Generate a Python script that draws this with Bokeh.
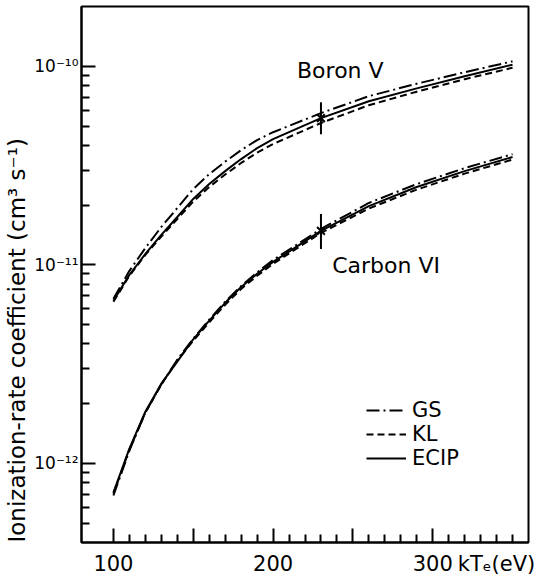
import math
from bokeh.plotting import figure
from bokeh.models import (FixedTicker, Label, Legend, LegendItem, Range1d,
                          CustomJSTickFormatter, LinearAxis)
from bokeh.embed import file_html
from bokeh.resources import INLINE

FONT = "DejaVu Sans"

# ---- data -----------------------------------------------------------------
temps = [100, 110, 120, 130, 140, 150, 160, 170, 180, 190, 200,
         230, 260, 290, 320, 350]

boron_gs = [6.75e-12, 9.33e-12, 1.216e-11, 1.552e-11, 1.932e-11, 2.41e-11,
            2.864e-11, 3.31e-11, 3.785e-11, 4.25e-11, 4.656e-11,
            5.81e-11, 7.07e-11, 8.17e-11, 9.33e-11, 1.059e-10]
boron_kl = [6.52e-12, 8.81e-12, 1.122e-11, 1.390e-11, 1.702e-11, 2.084e-11,
            2.466e-11, 2.851e-11, 3.26e-11, 3.673e-11, 4.06e-11,
            5.18e-11, 6.37e-11, 7.45e-11, 8.61e-11, 9.83e-11]
boron_ecip = [6.59e-12, 8.91e-12, 1.135e-11, 1.416e-11, 1.742e-11, 2.148e-11,
              2.553e-11, 2.965e-11, 3.41e-11, 3.873e-11, 4.30e-11,
              5.48e-11, 6.67e-11, 7.74e-11, 8.91e-11, 1.019e-10]

carbon_gs = [6.90e-13, 1.161e-12, 1.803e-12, 2.506e-12, 3.33e-12, 4.25e-12,
             5.30e-12, 6.52e-12, 7.83e-12, 9.17e-12, 1.059e-11,
             1.517e-11, 2.05e-11, 2.553e-11, 3.07e-11, 3.61e-11]
carbon_kl = [7.06e-13, 1.175e-12, 1.803e-12, 2.494e-12, 3.30e-12, 4.15e-12,
             5.14e-12, 6.30e-12, 7.57e-12, 8.81e-12, 1.012e-11,
             1.449e-11, 1.923e-11, 2.393e-11, 2.88e-11, 3.39e-11]
carbon_ecip = [7.14e-13, 1.189e-12, 1.824e-12, 2.523e-12, 3.26e-12, 4.22e-12,
               5.24e-12, 6.44e-12, 7.74e-12, 9.02e-12, 1.035e-11,
               1.483e-11, 1.977e-11, 2.466e-11, 2.965e-11, 3.49e-11]

# measured points with error bars (Boron V, Carbon VI)
meas_t = [230, 230]
meas_val = [5.48e-11, 1.483e-11]
meas_lo = [4.55e-11, 1.202e-11]
meas_hi = [6.59e-11, 1.803e-11]

# ticks and tick labels
x_major = [100, 150, 200, 250, 300]
x_minor = [t for t in range(110, 360, 10) if t not in x_major]
x_labels = [100, 200, 300]
y_major = [1e-12, 1e-11, 1e-10]
y_minor = ([m * 1e-13 for m in range(5, 10)] +
           [m * 1e-12 for m in range(2, 10)] +
           [m * 1e-11 for m in range(2, 10)])
y_tick_labels = ["10\u207b\u00b9\u00b2", "10\u207b\u00b9\u00b9",
                 "10\u207b\u00b9\u2070"]

series_names = ["GS", "KL", "ECIP"]
dashes = ["13 4 2 4", "7 4", "solid"]

x_title = "kT\u2091(eV)"
x_title_pos = 340
y_title = "Ionization-rate coefficient (cm\u00b3 s\u207b\u00b9)"

# ---- figure ----------------------------------------------------------------
p = figure(width=536, height=580, x_range=Range1d(80, 360),
           y_range=Range1d(4e-13, 2e-10), y_axis_type="log",
           output_backend="svg", toolbar_location=None,
           min_border_left=81, min_border_right=8, min_border_top=6,
           min_border_bottom=38)
p.background_fill_color = "white"
p.border_fill_color = "white"
p.outline_line_color = "black"
p.outline_line_width = 2
p.xgrid.visible = False
p.ygrid.visible = False

p.xaxis.ticker = FixedTicker(ticks=x_major, minor_ticks=x_minor)
p.yaxis.ticker = FixedTicker(ticks=y_major, minor_ticks=y_minor)
for ax in (p.xaxis[0], p.yaxis[0]):
    ax.axis_line_width = 2
    ax.axis_line_color = "black"
    ax.major_tick_in = 14
    ax.major_tick_out = 0
    ax.minor_tick_in = 8
    ax.minor_tick_out = 0
    ax.major_tick_line_width = 2
    ax.minor_tick_line_width = 2
    ax.major_tick_line_color = "black"
    ax.minor_tick_line_color = "black"

# main x axis: ticks only
xa = p.xaxis[0]
xa.formatter = CustomJSTickFormatter(code="return '';")
xa.major_label_text_font_size = "0px"
xa.major_label_standoff = 0

# second x axis below carries the numbers and the unit label
xlab = LinearAxis(ticker=FixedTicker(ticks=x_labels + [x_title_pos],
                                     minor_ticks=[]),
                  major_label_overrides={x_title_pos: x_title},
                  axis_line_color=None, major_tick_line_color=None,
                  minor_tick_line_color=None, major_tick_in=0,
                  major_tick_out=0, minor_tick_in=0, minor_tick_out=0,
                  major_label_standoff=9, major_label_text_font=FONT,
                  major_label_text_font_size="21px",
                  major_label_text_color="black")
p.add_layout(xlab, "below")

# y axis: 10^n labels and title
ya = p.yaxis[0]
ya.major_label_overrides = dict(zip(y_major, y_tick_labels))
ya.major_label_text_font = FONT
ya.major_label_text_font_size = "17px"
ya.major_label_text_color = "black"
ya.major_label_standoff = 3
ya.axis_label = y_title + "\u00a0" * 18
ya.axis_label_text_font = FONT
ya.axis_label_text_font_size = "23px"
ya.axis_label_text_font_style = "normal"
ya.axis_label_text_color = "black"
ya.axis_label_standoff = 1

renderers = {}
for name, dash, b, c in zip(series_names, dashes,
                            [boron_gs, boron_kl, boron_ecip],
                            [carbon_gs, carbon_kl, carbon_ecip]):
    rb = p.line(temps, b, line_width=2, line_dash=dash, line_color="black")
    p.line(temps, c, line_width=2, line_dash=dash, line_color="black")
    renderers[name] = rb

p.segment(x0=meas_t, y0=meas_lo, x1=meas_t, y1=meas_hi,
          line_width=2, line_color="black")
p.scatter(meas_t, meas_val, marker="x", size=11, line_width=2,
          line_color="black")

legend = Legend(items=[LegendItem(label=n, renderers=[renderers[n]])
                       for n in series_names],
                location=(285, 72), glyph_width=40, glyph_height=24,
                label_height=24, spacing=0, padding=0, margin=0,
                label_standoff=6, border_line_color=None,
                background_fill_alpha=0, label_text_font=FONT,
                label_text_font_size="21px", label_text_color="black")
p.add_layout(legend)

p.add_layout(Label(text="Boron V", x=215, y=1e-10, y_offset=-17,
                   text_font=FONT, text_font_size="22px",
                   text_color="black"))
p.add_layout(Label(text="Carbon VI", x=237, y=1e-11, y_offset=-13,
                   text_font=FONT, text_font_size="22px",
                   text_color="black"))

open("out.html", "w").write(file_html(p, INLINE))
